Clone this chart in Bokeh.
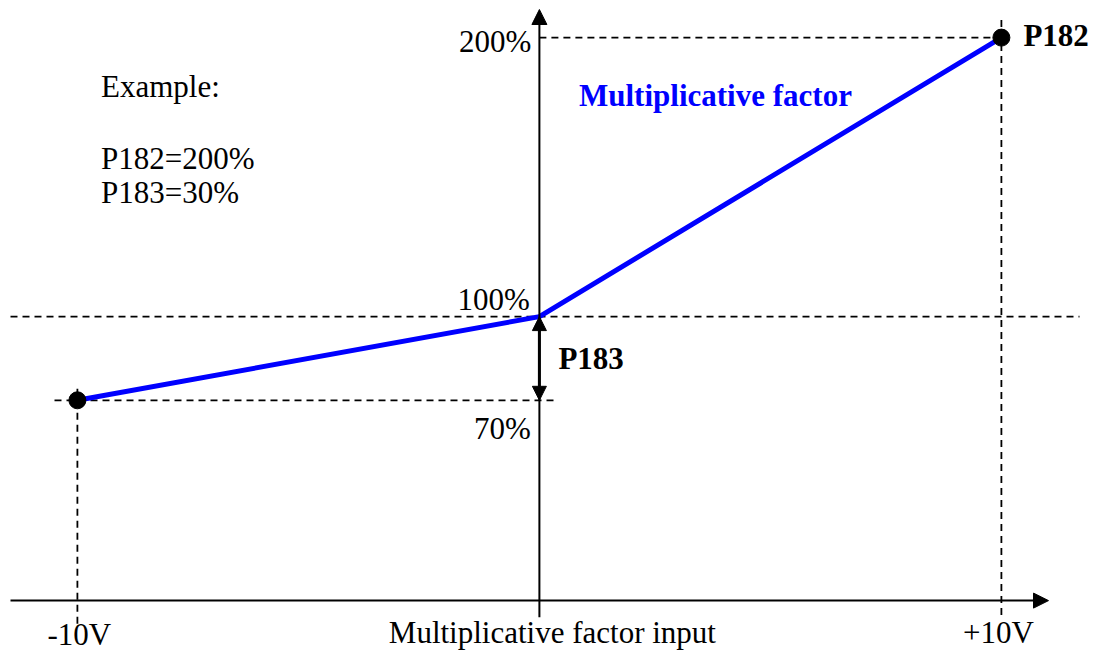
from bokeh.plotting import figure
from bokeh.models import Range1d, Arrow, NormalHead, Label
from bokeh.embed import file_html
from bokeh.resources import INLINE

# ---- data ----
volts = [-10, 0, 10]            # multiplicative factor input (V)
factor_pct = [70, 100, 200]     # multiplicative factor (%)
y_tick_labels = ["70%", "100%", "200%"]
x_tick_labels = ["-10V", "+10V"]
x_title = "Multiplicative factor input"
series_name = "Multiplicative factor"
param_labels = ["P183", "P182"]
example_lines = ["Example:", "P182=200%", "P183=30%"]

# ---- layout ----
W, H = 1096, 651
PX_V = 46.2      # pixels per volt
PX_P = 2.79      # pixels per percent
x_start = volts[0] - 76.9 / PX_V
x_end = x_start + W / PX_V
y_end = factor_pct[2] + 37.1 / PX_P
y_start = y_end - H / PX_P
AXIS_Y = -1.8


def px2x(px):
    return x_start + px / PX_V


def py2y(py):
    return y_end - py / PX_P


dy = 1 / PX_P

FONT = "Liberation Serif"
FS = "31px"
BLUE = "#0000ff"

p = figure(width=W, height=H, x_range=Range1d(x_start, x_end),
           y_range=Range1d(y_start, y_end), output_backend="svg",
           toolbar_location=None, min_border=0,
           x_axis_location=None, y_axis_location=None)
p.grid.visible = False
p.outline_line_color = None
p.background_fill_color = "white"
p.border_fill_color = "white"

# dashed guide lines
p.segment(
    x0=[volts[1], px2x(10), px2x(54), volts[0], volts[2]],
    y0=[factor_pct[2], factor_pct[1], factor_pct[0], factor_pct[0] + 11.5 * dy, factor_pct[2] + 17.5 * dy],
    x1=[volts[2], px2x(1079), px2x(557), volts[0], volts[2]],
    y1=[factor_pct[2], factor_pct[1], factor_pct[0], AXIS_Y - 24.5 * dy, AXIS_Y - 14.7 * dy],
    line_color="black", line_width=1.8, line_dash="7 5")

# curve
p.line(volts, factor_pct, line_width=5, line_color=BLUE)
p.scatter([volts[0], volts[2]], [factor_pct[0], factor_pct[2]], size=17,
          fill_color="black", line_color="black")

# axes with arrows
p.add_layout(Arrow(end=NormalHead(size=15, fill_color="black", line_color="black"),
                   x_start=px2x(10), y_start=AXIS_Y,
                   x_end=px2x(1048), y_end=AXIS_Y,
                   line_color="black", line_width=2))
p.add_layout(Arrow(end=NormalHead(size=15, fill_color="black", line_color="black"),
                   x_start=volts[1], y_start=AXIS_Y - 16.6 * dy,
                   x_end=volts[1], y_end=py2y(9),
                   line_color="black", line_width=2))
# P183 double arrow
p.add_layout(Arrow(start=NormalHead(size=14, fill_color="black", line_color="black"),
                   end=NormalHead(size=14, fill_color="black", line_color="black"),
                   x_start=volts[1], y_start=factor_pct[1],
                   x_end=volts[1], y_end=factor_pct[0],
                   line_color="black", line_width=3))


def lab(text, x, y, xo=0, yo=0, align="left", bold=False, color="black"):
    p.add_layout(Label(x=x, y=y, x_offset=xo, y_offset=yo, text=text,
                       text_align=align, text_baseline="middle",
                       text_font=FONT, text_font_size=FS,
                       text_font_style="bold" if bold else "normal",
                       text_color=color))


lab(y_tick_labels[2], volts[1], factor_pct[2], -8, -3.4, align="right")
lab(y_tick_labels[1], volts[1], factor_pct[1], -9.6, 17.1, align="right")
lab(y_tick_labels[0], volts[1], factor_pct[0], -8.6, -27.8, align="right")
lab(param_labels[0], volts[1], (factor_pct[1] + factor_pct[0]) / 2, 19, 0, bold=True)
lab(param_labels[1], volts[2], factor_pct[2], 22, 2, bold=True)
lab(x_tick_labels[0], volts[0], AXIS_Y, 2, -33.5, align="center")
lab(x_tick_labels[1], volts[2], AXIS_Y, -3, -31.5, align="center")
lab(x_title, volts[1], AXIS_Y, 13, -31.5, align="center")
lab(series_name, volts[1], factor_pct[2], 39.6, -58, bold=True, color=BLUE)
for t, yo in zip(example_lines, [-49.2, -120.5, -154.6]):
    lab(t, volts[0], factor_pct[2], 23.6, yo)

open("out.html", "w").write(file_html(p, INLINE))
